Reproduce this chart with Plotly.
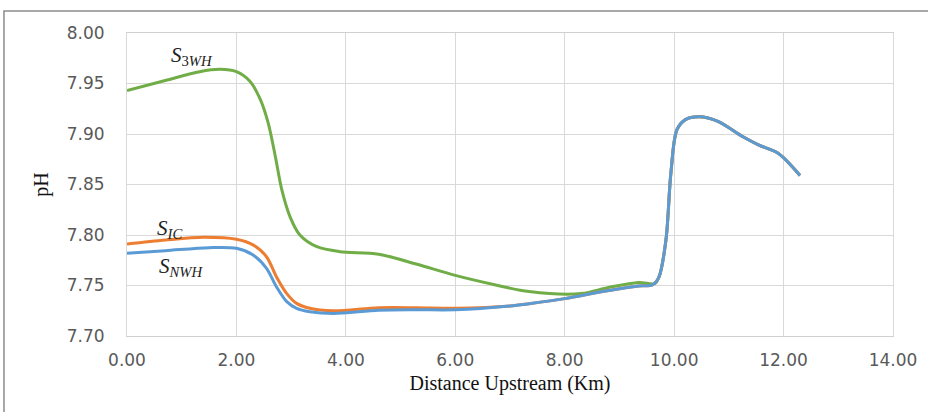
import plotly.graph_objects as go

# Distance upstream (km) and pH for each sampling series
x_3wh = [0.0, 0.7, 1.33, 1.7, 2.0, 2.25, 2.43, 2.58, 2.71, 2.83, 2.98, 3.16, 3.47, 3.89, 4.6, 5.3, 6.0, 6.7,
         7.35, 8.3, 8.8, 9.35, 9.65, 9.72, 9.85, 9.94, 10.05, 10.2, 10.46, 10.8, 11.25, 11.55, 11.9, 12.3]
ph_3wh = [7.943, 7.953, 7.9617, 7.964, 7.9617, 7.952, 7.935, 7.911, 7.878, 7.8446, 7.818, 7.800, 7.7884,
          7.7835, 7.781, 7.771, 7.760, 7.751, 7.744, 7.742, 7.748, 7.753, 7.752, 7.758, 7.795, 7.861, 7.904,
          7.914, 7.917, 7.9125, 7.8975, 7.889, 7.881, 7.859]

x_ic = [0.0, 0.7, 1.4, 2.0, 2.31, 2.55, 2.73, 2.92, 3.1, 3.34, 3.77, 4.6, 5.3, 6.0, 7.0, 7.35, 8.0, 8.75,
        9.35, 9.6, 9.72, 9.85, 9.94, 10.05, 10.2, 10.46, 10.8, 11.25, 11.55, 11.9, 12.3]
ph_ic = [7.791, 7.795, 7.7977, 7.7957, 7.790, 7.7785, 7.7587, 7.742, 7.7323, 7.7274, 7.725, 7.728, 7.728,
         7.7275, 7.7297, 7.732, 7.737, 7.7445, 7.7495, 7.7505, 7.758, 7.795, 7.861, 7.904, 7.914, 7.917,
         7.9125, 7.8975, 7.889, 7.881, 7.859]

x_nwh = [0.0, 0.7, 1.5, 2.0, 2.31, 2.55, 2.73, 2.92, 3.1, 3.34, 3.77, 4.6, 5.3, 6.0, 7.0, 7.35, 8.0, 8.75,
         9.35, 9.6, 9.72, 9.85, 9.94, 10.05, 10.2, 10.46, 10.8, 11.25, 11.55, 11.9, 12.3]
ph_nwh = [7.782, 7.7845, 7.7875, 7.7868, 7.780, 7.767, 7.7488, 7.734, 7.7274, 7.7241, 7.7224, 7.7255, 7.726,
          7.726, 7.7297, 7.732, 7.737, 7.7445, 7.7495, 7.7505, 7.758, 7.795, 7.861, 7.904, 7.914, 7.917,
          7.9125, 7.8975, 7.889, 7.881, 7.859]

x_ticks = [0, 2, 4, 6, 8, 10, 12, 14]
y_ticks = [7.70, 7.75, 7.80, 7.85, 7.90, 7.95, 8.00]

series = [
    ("S3WH", x_3wh, ph_3wh, "#70AD47"),
    ("SIC", x_ic, ph_ic, "#ED7D31"),
    ("SNWH", x_nwh, ph_nwh, "#5B9BD5"),
]

fig = go.Figure()
for name, xs, ys, color in series:
    fig.add_trace(go.Scatter(
        x=xs, y=ys, name=name, mode="lines",
        line=dict(color=color, width=3, shape="spline", smoothing=0.9),
        showlegend=False,
    ))

label_font = dict(family="Liberation Serif", size=21, color="#222222")
labels = [
    (1.19, 7.977, "<i>S</i><sub>3<i>WH</i></sub>"),
    (0.78, 7.806, "<i>S</i><sub><i>IC</i></sub>"),
    (1.0, 7.768, "<i>S</i><sub><i>NWH</i></sub>"),
]
for lx, ly, txt in labels:
    fig.add_annotation(x=lx, y=ly, text=txt, showarrow=False, font=label_font)

# Outer chart frame
fig.add_shape(type="rect", xref="paper", yref="paper",
              x0=-0.1606, x1=1.2, y0=-0.4, y1=1.0726,
              line=dict(color="#8c8c8c", width=1.5), fillcolor="rgba(0,0,0,0)", layer="below")

tick_font = dict(family="DejaVu Sans", size=17, color="#595959")
fig.update_layout(
    width=928, height=412,
    margin=dict(l=127, r=35, t=33, b=76),
    paper_bgcolor="white", plot_bgcolor="white",
    xaxis=dict(
        range=[0, 14], tickvals=x_ticks, tickformat=".2f",
        showgrid=True, gridcolor="#d9d9d9", gridwidth=1,
        zeroline=False, showline=True, linecolor="#d0d0d0", linewidth=1, mirror=True,
        ticks="", tickfont=tick_font, ticklabelstandoff=9,
        title=dict(text="Distance Upstream (Km)",
                   font=dict(family="Liberation Serif", size=20, color="#111111"), standoff=6),
    ),
    yaxis=dict(
        range=[7.70, 8.00], tickvals=y_ticks, tickformat=".2f",
        showgrid=True, gridcolor="#d9d9d9", gridwidth=1,
        zeroline=False, showline=True, linecolor="#d9d9d9", linewidth=1, mirror=True,
        ticks="", tickfont=tick_font, ticklabelstandoff=18,
        title=dict(text="pH",
                   font=dict(family="Liberation Serif", size=20, color="#111111"), standoff=12),
    ),
)

fig.write_html("out.html")
